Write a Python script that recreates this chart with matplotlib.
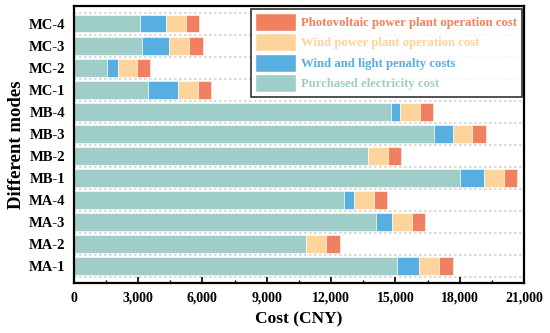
import matplotlib
matplotlib.use("Agg")
import matplotlib.pyplot as plt
import numpy as np
from matplotlib.patches import Patch
from matplotlib.ticker import FuncFormatter, MultipleLocator

modes = ["MA-1", "MA-2", "MA-3", "MA-4", "MB-1", "MB-2", "MB-3", "MB-4",
         "MC-1", "MC-2", "MC-3", "MC-4"]
purchased = [15060, 10850, 14070, 12610, 17990, 13740, 16790, 14810,
             3480, 1560, 3180, 3070]
penalty = [1060, 0, 790, 470, 1130, 0, 870, 420, 1400, 500, 1275, 1230]
wind_op = [920, 930, 920, 915, 920, 920, 920, 900, 920, 900, 920, 915]
pv_op = [620, 620, 620, 625, 620, 620, 620, 640, 620, 620, 640, 625]

series = [("Purchased electricity cost", purchased, "#9fcec8"),
          ("Wind and light penalty costs", penalty, "#57aee0"),
          ("Wind power plant operation cost", wind_op, "#fdd49c"),
          ("Photovoltaic power plant operation cost", pv_op, "#f0805f")]

plt.rcParams["font.family"] = "Liberation Serif"
plt.rcParams["font.weight"] = "bold"

fig = plt.figure(figsize=(5.5, 3.33), dpi=100)
ax = fig.add_axes([0.134, 0.149, 0.819, 0.833])

y = np.arange(len(modes))
left = np.zeros(len(modes))
for name, vals, col in series:
    ax.barh(y, vals, left=left, height=0.8, color=col, edgecolor="white",
            linewidth=0.4, zorder=2)
    left += np.array(vals)

# dotted separators between rows
for g in np.arange(-0.5, len(modes), 1.0):
    ax.axhline(g, color="#d4d4d4", linestyle=(0, (1.5, 1.5)), linewidth=1.2, zorder=1)

ax.set_xlim(0, 21000)
ax.set_ylim(-0.78, len(modes) - 0.2)
ax.set_yticks(y)
ax.set_yticklabels(modes, fontsize=10.5, fontweight="bold")
ax.tick_params(axis="y", length=0, pad=6)
ax.xaxis.set_major_locator(MultipleLocator(3000))
ax.xaxis.set_minor_locator(MultipleLocator(1500))
ax.xaxis.set_major_formatter(FuncFormatter(lambda v, p: f"{int(v):,}"))
ax.tick_params(axis="x", which="major", length=4, width=1.2, labelsize=10,
               direction="in", pad=6)
ax.tick_params(axis="x", which="minor", length=2.5, width=1.0, direction="in")
for lab in ax.get_xticklabels():
    lab.set_fontweight("bold")
for s in ax.spines.values():
    s.set_linewidth(1.6)

ax.set_xlabel("Cost (CNY)", fontsize=12.5, fontweight="bold", labelpad=5)
ax.set_ylabel("Different modes", fontsize=13.5, fontweight="bold", labelpad=3)

handles = [Patch(facecolor=c, edgecolor="white") for _, _, c in series][::-1]
labels = [n for n, _, _ in series][::-1]
leg = ax.legend(handles, labels, loc="upper right", frameon=True,
                fancybox=False, edgecolor="black", handlelength=3.2, handleheight=1.75,
                labelspacing=0.22, borderaxespad=0.2, borderpad=0.35, handletextpad=0.4,
                prop={"weight": "bold", "size": 9.2})
leg.get_frame().set_linewidth(1.2)
for txt, (_, _, c) in zip(leg.get_texts(), series[::-1]):
    txt.set_color(c)

fig.savefig("out.png", dpi=100)
